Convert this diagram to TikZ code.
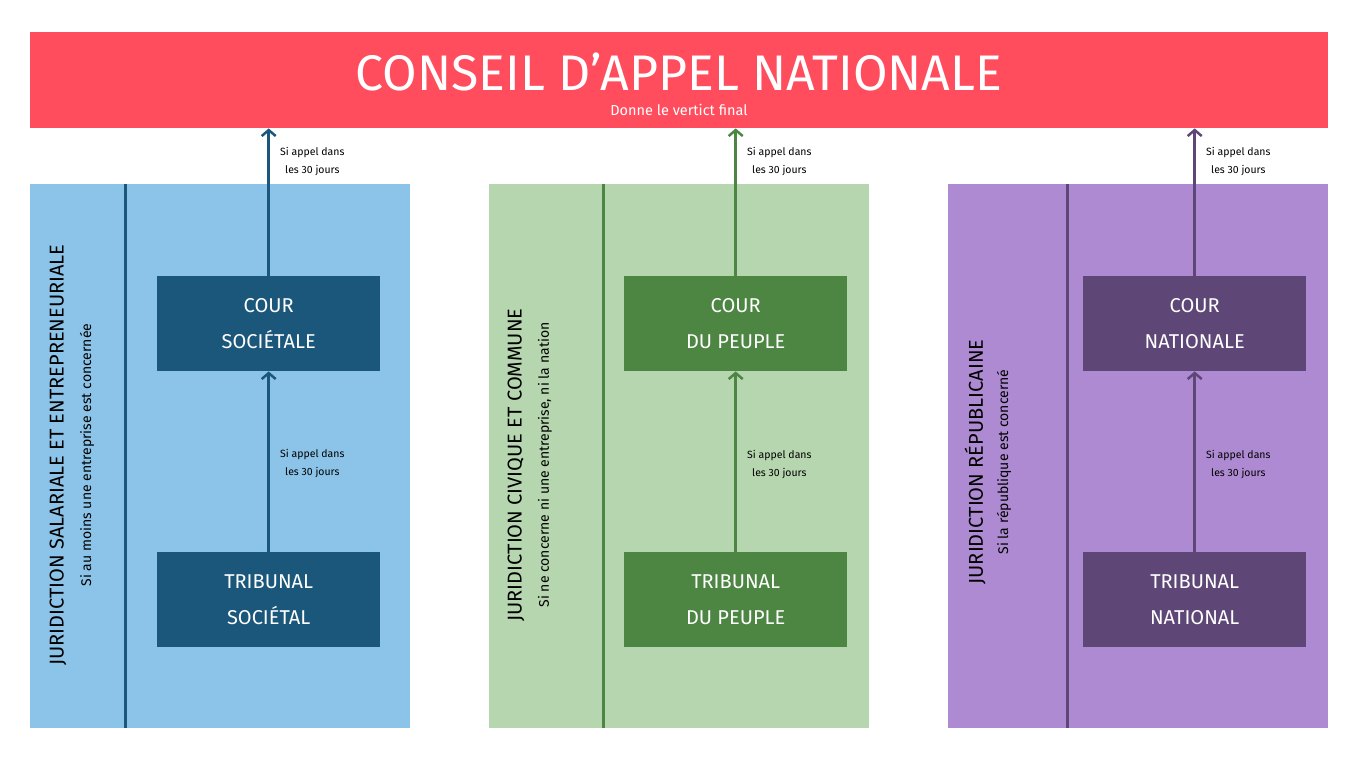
\documentclass[tikz,border=0pt]{standalone}
\usepackage{fontspec}
\setmainfont{Fira Sans}
\usetikzlibrary{arrows.meta}
\definecolor{banner}{HTML}{FF4D5E}
\definecolor{bbg}{HTML}{8BC4E8}\definecolor{bbx}{HTML}{1B577B}
\definecolor{gbg}{HTML}{B5D6AE}\definecolor{gbx}{HTML}{4D8542}
\definecolor{pbg}{HTML}{AE8AD3}\definecolor{pbx}{HTML}{5E4776}
\begin{document}
\begin{tikzpicture}[x=1pt,y=-1pt,
  court/.style={minimum width=223pt,minimum height=95pt,anchor=north west,text=white,font=\fontsize{20}{36}\selectfont,align=center,inner sep=0pt},
  lbl/.style={font=\fontsize{10.5}{18}\selectfont,align=center,anchor=west},
  arr/.style={line width=3pt,-{Straight Barb[length=6pt,width=14pt,line width=2.5pt]}},
  title/.style={rotate=90,font=\fontsize{20}{24}\selectfont},
  sub/.style={rotate=90,font=\fontsize{14}{16}\selectfont}]
\useasboundingbox (0,0) rectangle (1355,758);
\fill[white] (0,0) rectangle (1355,758);
\node[fill=banner,minimum width=1298pt,minimum height=96pt,anchor=north west,inner sep=0pt] (ban) at (30,32) {};
\node[text=white,font=\fontsize{50}{50}\selectfont] (t) at (679,72) {CONSEIL D’APPEL NATIONALE};
\node[text=white,font=\fontsize{14.5}{16}\selectfont] (st) at (679,110) {Donne le vertict final};
\foreach \x/\bg/\bx/\lx/\ca/\cb/\ta/\tb/\ja/\jb/\jy/\ll in {
 30/bbg/bbx/125/COUR/SOCIÉTALE/TRIBUNAL/SOCIÉTAL/JURIDICTION SALARIALE ET ENTREPRENEURIALE/Si au moins une entreprise est concernée/455/0,
 489/gbg/gbx/603/COUR/DU PEUPLE/TRIBUNAL/DU PEUPLE/JURIDICTION CIVIQUE ET COMMUNE/Si ne concerne ni une entreprise{,} ni la nation/465/1,
 948/pbg/pbx/1067/COUR/NATIONALE/TRIBUNAL/NATIONAL/JURIDICTION RÉPUBLICAINE/Si la république est concerné/462/1}{
 \fill[\bg] (\x,184) rectangle ++(380,544);
 \draw[\bx,line width=3pt] (\lx,184) -- (\lx,728);
 \node[court,fill=\bx] (c\x) at (\x+127+\ll*8,276) {\ca\\\cb};
 \node[court,fill=\bx] (tr\x) at (\x+127+\ll*8,552) {\ta\\\tb};
 \draw[arr,\bx] (tr\x.north) -- (c\x.south);
 \draw[arr,\bx] (c\x.north) -- (c\x.north |- ban.south);
 \node[lbl] at ([xshift=8pt]c\x.north |- 0,162) {Si appel dans\\les 30 jours};
 \node[lbl] at ([xshift=8pt]c\x.south |- 0,464+\ll*1) {Si appel dans\\les 30 jours};
 \node[title] at (\x+28-\ll*1,\jy) {\ja};
 \node[sub] at (\x+57-\ll*1,\jy) {\jb};
}
\end{tikzpicture}
\end{document}
